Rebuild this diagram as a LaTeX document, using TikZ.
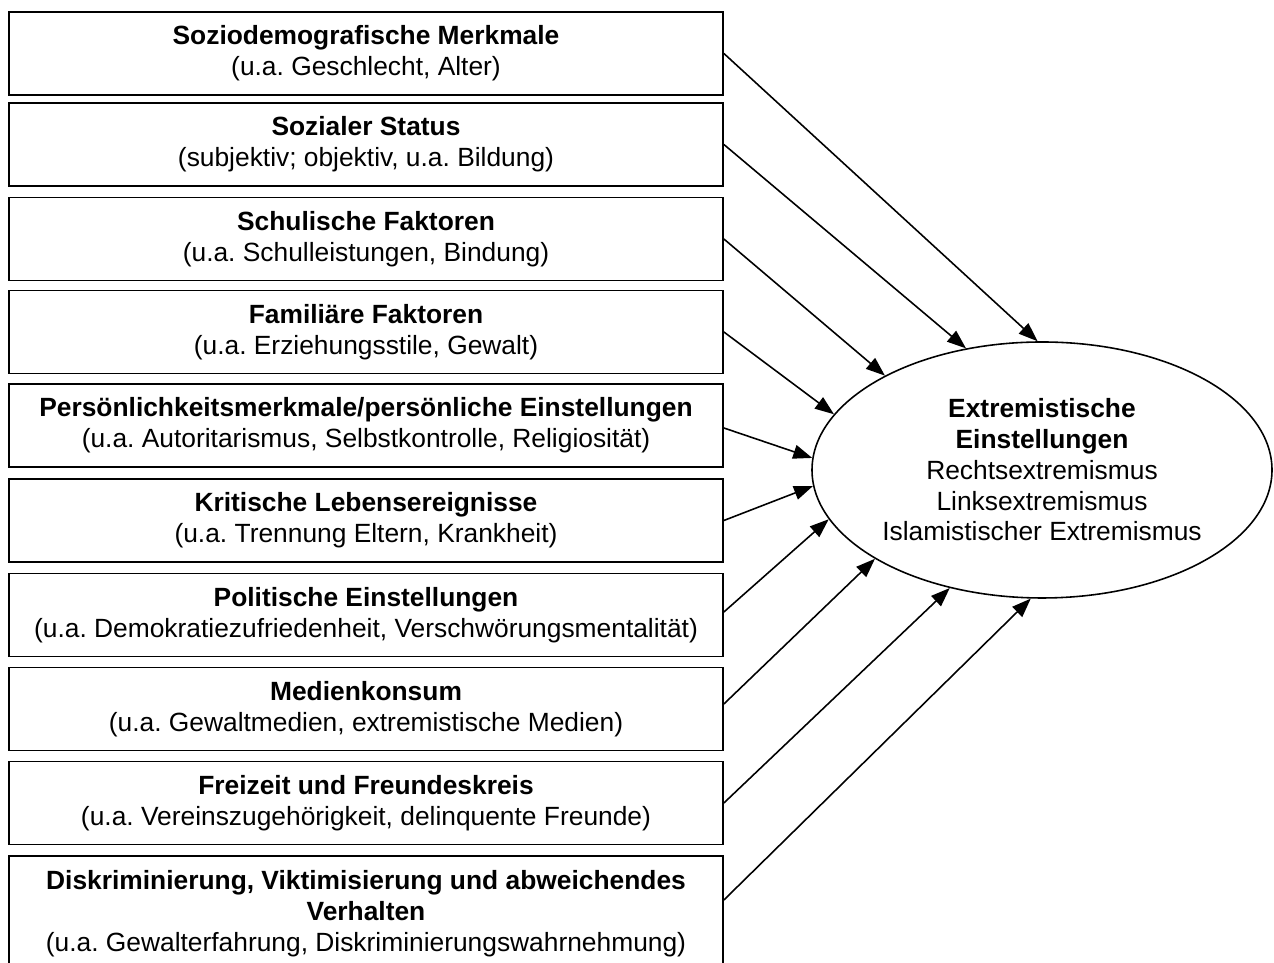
\documentclass[tikz,border=0pt]{standalone}
\usepackage{fontspec}
\setmainfont{Liberation Sans}
\usepackage{tikz}
\usetikzlibrary{shapes.geometric}
\usetikzlibrary{arrows.meta}
\frenchspacing
\tikzset{
  faktor/.style={draw, line width=1pt, minimum width=14.28cm, minimum height=1.66cm,
    inner sep=0pt, align=center, font=\fontsize{15pt}{17.5pt}\selectfont},
  ziel/.style={draw, ellipse, line width=0.9pt, minimum width=9.2cm, minimum height=5.12cm,
    inner sep=0pt, align=center, font=\fontsize{15pt}{17.5pt}\selectfont},
  pfeil/.style={line width=0.9pt, -{Triangle[length=0.38cm,width=0.28cm]}}
}

\begin{document}
\begin{tikzpicture}[scale=1]
    \useasboundingbox (0, 0) rectangle (25.48, 19.26);

    % Einflussfaktoren links
    \node[faktor] at (7.32, 18.19) (soz) {\textbf{Soziodemografische Merkmale}\\(u.a. Geschlecht, Alter)};
    \node[faktor] at (7.32, 16.37) (status) {\textbf{Sozialer Status}\\(subjektiv; objektiv, u.a. Bildung)};
    \node[faktor] at (7.32, 14.48) (schule) {\textbf{Schulische Faktoren}\\(u.a. Schulleistungen, Bindung)};
    \node[faktor] at (7.32, 12.62) (familie) {\textbf{Familiäre Faktoren}\\(u.a. Erziehungsstile, Gewalt)};
    \node[faktor] at (7.32, 10.75) (pers) {\textbf{Persönlichkeitsmerkmale/persönliche Einstellungen}\\(u.a. Autoritarismus, Selbstkontrolle, Religiosität)};
    \node[faktor] at (7.32, 8.85) (leben) {\textbf{Kritische Lebensereignisse}\\(u.a. Trennung Eltern, Krankheit)};
    \node[faktor] at (7.32, 6.96) (politik) {\textbf{Politische Einstellungen}\\(u.a. Demokratiezufriedenheit, Verschwörungsmentalität)};
    \node[faktor] at (7.32, 5.08) (medien) {\textbf{Medienkonsum}\\(u.a. Gewaltmedien, extremistische Medien)};
    \node[faktor] at (7.32, 3.20) (freizeit) {\textbf{Freizeit und Freundeskreis}\\(u.a. Vereinszugehörigkeit, delinquente Freunde)};
    \node[faktor, minimum height=2.3cm] at (7.32, 0.99) (diskr) {\textbf{Diskriminierung, Viktimisierung und abweichendes}\\\textbf{Verhalten}\\(u.a. Gewalterfahrung, Diskriminierungswahrnehmung)};

    % Zielvariable
    \node[ziel] at (20.84, 9.86) (ext) {\textbf{Extremistische}\\\textbf{Einstellungen}\\Rechtsextremismus\\Linksextremismus\\Islamistischer Extremismus};

    \draw (soz.east) edge[pfeil] (ext.92.7);
    \draw (status.east) edge[pfeil] (ext.122.7);
    \draw (schule.east) edge[pfeil] (ext.149.3);
    \draw (familie.east) edge[pfeil] (ext.165.8);
    \draw ([yshift=-0.05cm]pers.east) edge[pfeil] (ext.177);
    \draw (leben.east) edge[pfeil] (ext.184.2);
    \draw ([yshift=0.06cm]politik.east) edge[pfeil] (ext.193);
    \draw ([yshift=0.1cm]medien.east) edge[pfeil] (ext.208);
    \draw (freizeit.east) edge[pfeil] (ext.232.7);
    \draw ([yshift=0.27cm]diskr.east) edge[pfeil] (ext.265.6);
\end{tikzpicture}
\end{document}
